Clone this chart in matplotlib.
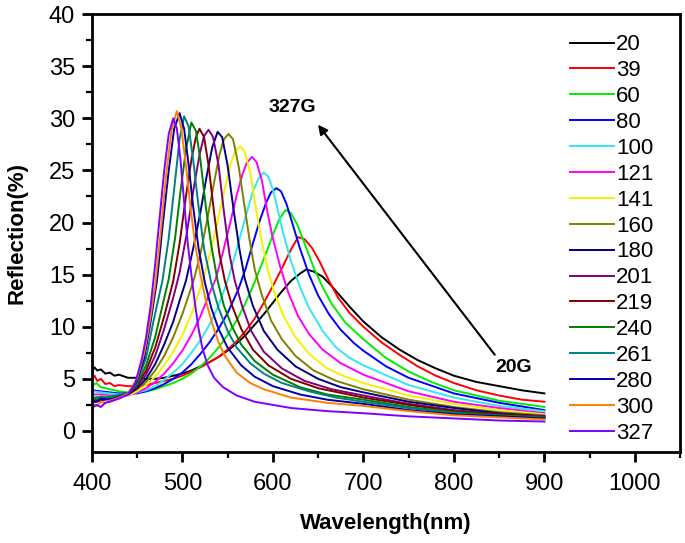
import matplotlib
matplotlib.use("Agg")
import numpy as np
import matplotlib.pyplot as plt
from matplotlib.ticker import MultipleLocator

plt.rcParams['font.family'] = ['Liberation Sans', 'DejaVu Sans']

# field values (G) and reflection spectra: (wavelength nm, reflection %)
fields = ['20', '39', '60', '80', '100', '121', '141', '160',
          '180', '201', '219', '240', '261', '280', '300', '327']
colors = ['#000000', '#ff0000', '#00ee00', '#0000ff', '#33e6f0', '#ff00ff',
          '#f2f200', '#808000', '#000080', '#800080', '#800000', '#008000',
          '#008080', '#0000a8', '#ff8000', '#8000ff']

s20 = [(400, 5.7), (403, 6.1), (406, 5.8), (410, 5.9), (415, 5.5), (420, 5.6), (425, 5.3), (430, 5.4),
       (440, 5.1), (450, 5.1), (460, 5.0), (470, 5.0), (480, 5.1), (490, 5.3), (500, 5.5), (510, 5.8),
       (520, 6.2), (530, 6.6), (540, 7.1), (550, 7.7), (560, 8.4), (570, 9.2), (580, 10.2), (590, 11.2),
       (600, 12.3), (610, 13.4), (620, 14.4), (630, 15.1), (637, 15.5), (645, 15.3), (655, 14.8),
       (665, 13.9), (675, 12.9), (685, 11.9), (700, 10.5), (720, 9.0), (740, 7.8), (760, 6.8),
       (780, 6.0), (800, 5.3), (825, 4.7), (850, 4.3), (875, 3.9), (900, 3.6)]
s39 = [(400, 4.9), (403, 5.3), (406, 4.8), (410, 5.0), (415, 4.5), (420, 4.6), (425, 4.3), (430, 4.4),
       (440, 4.3), (450, 4.3), (460, 4.4), (470, 4.6), (480, 4.8), (490, 5.0), (500, 5.3), (510, 5.7),
       (520, 6.1), (530, 6.6), (540, 7.1), (550, 7.8), (560, 8.6), (570, 9.6), (580, 10.8), (590, 12.3),
       (600, 13.9), (610, 15.6), (620, 17.4), (628, 18.6), (635, 18.4), (643, 17.6), (652, 16.2),
       (662, 14.4), (672, 12.8), (685, 11.3), (700, 10.0), (720, 8.5), (740, 7.3), (760, 6.2),
       (780, 5.3), (800, 4.6), (825, 3.9), (850, 3.4), (875, 3.0), (900, 2.8)]
s60 = [(400, 4.3), (405, 4.6), (410, 4.2), (420, 4.0), (430, 3.8), (440, 3.7), (450, 3.7), (460, 3.8),
       (470, 4.0), (480, 4.3), (490, 4.6), (500, 5.0), (510, 5.5), (520, 6.2), (530, 7.0), (540, 8.0),
       (550, 9.2), (560, 10.6), (570, 12.3), (580, 14.3), (590, 16.5), (600, 18.8), (607, 20.3),
       (614, 21.2), (620, 20.9), (627, 19.8), (635, 18.0), (645, 15.7), (655, 13.8), (665, 12.2),
       (680, 10.4), (700, 8.8), (725, 7.0), (750, 5.7), (775, 4.7), (800, 3.9), (850, 2.9), (900, 2.3)]
s80 = [(400, 3.9), (410, 3.8), (420, 3.7), (430, 3.6), (440, 3.6), (450, 3.6), (460, 3.8), (470, 4.1),
       (480, 4.5), (490, 5.0), (500, 5.6), (510, 6.4), (520, 7.4), (530, 8.5), (540, 9.8), (550, 11.3),
       (562, 13.6), (570, 15.6), (578, 18.0), (586, 20.3), (593, 22.0), (598, 22.9), (604, 23.3),
       (609, 23.0), (615, 21.8), (622, 19.8), (630, 17.5), (640, 15.0), (650, 13.0), (662, 11.2),
       (675, 9.7), (690, 8.4), (700, 7.7), (725, 6.2), (750, 5.1), (800, 3.6), (850, 2.7), (900, 2.0)]
s100 = [(400, 3.8), (410, 3.7), (420, 3.6), (430, 3.5), (440, 3.5), (450, 3.7), (460, 3.9), (470, 4.3),
        (480, 4.9), (490, 5.6), (500, 6.4), (510, 7.5), (520, 8.7), (530, 10.2), (540, 12.0),
        (550, 14.4), (558, 16.8), (565, 19.0), (572, 21.2), (578, 23.0), (584, 24.2), (590, 24.8),
        (595, 24.4), (600, 23.2), (606, 21.0), (612, 18.8), (620, 16.3), (630, 13.8), (640, 11.8),
        (655, 9.6), (670, 8.0), (685, 7.0), (700, 6.3), (750, 4.4), (800, 3.2), (850, 2.4), (900, 1.9)]
s121 = [(400, 3.5), (410, 3.5), (420, 3.4), (430, 3.4), (440, 3.4), (450, 3.7), (460, 4.1), (470, 4.7),
        (480, 5.5), (490, 6.5), (500, 7.7), (510, 9.2), (520, 11.0), (530, 13.2), (537, 14.6),
        (545, 17.2), (553, 20.0), (560, 22.6), (566, 24.5), (571, 25.7), (577, 26.3), (582, 25.8),
        (588, 24.0), (594, 21.0), (600, 18.5), (608, 15.8), (617, 13.3), (628, 11.0), (640, 9.3),
        (655, 7.8), (675, 6.5), (700, 5.4), (750, 3.8), (800, 2.8), (850, 2.2), (900, 1.7)]
s141 = [(400, 3.3), (410, 3.3), (420, 3.3), (430, 3.3), (440, 3.4), (450, 3.8), (460, 4.4), (470, 5.2),
        (480, 6.3), (490, 7.6), (500, 9.2), (510, 11.2), (518, 13.2), (524, 14.8), (532, 17.5),
        (540, 20.5), (547, 23.3), (553, 25.5), (558, 26.8), (564, 27.3), (569, 26.8), (575, 24.8),
        (581, 21.5), (587, 18.5), (594, 15.6), (602, 13.2), (612, 11.0), (625, 9.0), (640, 7.4),
        (660, 6.0), (680, 5.2), (700, 4.6), (750, 3.4), (800, 2.6), (850, 2.0), (900, 1.6)]
s160 = [(400, 3.2), (410, 3.2), (420, 3.3), (430, 3.3), (440, 3.5), (450, 4.0), (460, 4.7), (470, 5.8),
        (480, 7.2), (490, 9.0), (500, 11.2), (507, 13.0), (513, 14.6), (520, 17.0), (528, 20.5),
        (535, 23.8), (541, 26.5), (546, 28.0), (551, 28.5), (556, 28.0), (562, 25.5), (568, 22.0),
        (574, 18.5), (580, 15.5), (588, 13.0), (598, 10.6), (610, 8.8), (625, 7.2), (645, 5.8),
        (670, 4.8), (700, 4.0), (750, 3.0), (800, 2.3), (850, 1.8), (900, 1.5)]
s180 = [(400, 2.9), (405, 3.2), (410, 3.0), (420, 3.2), (430, 3.3), (440, 3.5), (450, 4.1), (460, 5.0),
        (470, 6.4), (480, 8.3), (490, 10.5), (497, 12.5), (504, 14.4), (512, 17.5), (520, 21.0),
        (527, 24.5), (533, 27.2), (539, 28.7), (544, 28.2), (550, 25.5), (557, 21.0), (563, 17.5),
        (569, 14.6), (578, 12.0), (590, 9.6), (605, 7.8), (625, 6.2), (650, 5.0), (675, 4.2),
        (700, 3.7), (750, 2.8), (800, 2.2), (850, 1.7), (900, 1.4)]
s201 = [(400, 2.7), (410, 2.9), (420, 3.1), (430, 3.3), (440, 3.6), (450, 4.3), (460, 5.4), (470, 7.2),
        (480, 9.8), (490, 12.8), (497, 15.2), (505, 19.0), (512, 23.0), (519, 26.5), (524, 28.3),
        (529, 28.9), (534, 28.2), (540, 25.5), (546, 21.0), (552, 17.0), (558, 14.4), (566, 12.0),
        (576, 9.6), (590, 7.6), (610, 6.0), (635, 4.8), (665, 4.0), (700, 3.4), (750, 2.6),
        (800, 2.0), (850, 1.6), (900, 1.4)]
s219 = [(400, 2.8), (410, 3.0), (420, 3.2), (430, 3.3), (440, 3.6), (450, 4.4), (460, 5.8), (470, 8.0),
        (480, 11.0), (490, 14.4), (497, 18.0), (504, 22.5), (510, 26.0), (515, 28.2), (519, 29.0),
        (524, 28.2), (529, 25.5), (535, 21.0), (541, 17.0), (547, 14.4), (555, 12.0), (565, 9.8),
        (578, 7.8), (595, 6.3), (620, 5.0), (650, 4.1), (700, 3.2), (750, 2.5), (800, 1.9),
        (850, 1.6), (900, 1.3)]
s240 = [(400, 2.9), (410, 3.2), (420, 3.3), (430, 3.4), (440, 3.6), (450, 4.5), (460, 6.3), (470, 9.0),
        (478, 12.0), (485, 14.6), (492, 18.5), (498, 23.0), (504, 27.0), (510, 29.6), (515, 28.8),
        (520, 26.0), (526, 21.5), (532, 17.8), (539, 14.4), (546, 12.0), (555, 10.0), (565, 8.3),
        (580, 6.7), (600, 5.4), (630, 4.2), (660, 3.5), (700, 3.0), (750, 2.3), (800, 1.8),
        (850, 1.5), (900, 1.3)]
s261 = [(400, 3.1), (410, 3.3), (420, 3.2), (430, 3.4), (440, 3.6), (450, 4.7), (460, 7.0), (468, 10.5),
        (478, 14.4), (485, 18.5), (492, 24.0), (497, 28.0), (502, 30.2), (507, 29.2), (512, 26.0),
        (518, 21.5), (524, 17.5), (532, 14.2), (540, 11.8), (550, 9.6), (560, 8.0), (575, 6.5),
        (590, 5.5), (610, 4.6), (640, 3.8), (670, 3.2), (700, 2.8), (750, 2.2), (800, 1.7),
        (850, 1.4), (900, 1.2)]
s280 = [(400, 3.0), (405, 2.8), (410, 3.1), (420, 3.0), (430, 3.3), (440, 3.6), (450, 4.8), (458, 7.0),
        (465, 10.5), (472, 14.4), (478, 19.5), (485, 25.0), (491, 29.0), (497, 30.5), (502, 29.0),
        (507, 25.5), (512, 21.5), (518, 17.5), (525, 14.2), (532, 11.8), (540, 9.8), (550, 8.0),
        (565, 6.3), (580, 5.2), (600, 4.3), (630, 3.5), (660, 3.0), (700, 2.6), (750, 2.0),
        (800, 1.6), (850, 1.4), (900, 1.2)]
s300 = [(400, 2.6), (405, 2.4), (410, 2.8), (415, 2.7), (420, 2.9), (430, 3.2), (440, 3.6), (450, 5.0),
        (458, 7.5), (465, 11.0), (470, 14.0), (476, 19.0), (482, 24.5), (488, 28.8), (494, 30.7),
        (499, 29.0), (504, 25.5), (509, 21.5), (514, 18.0), (520, 15.0), (526, 12.5), (533, 10.3),
        (540, 8.5), (547, 7.2), (560, 5.6), (575, 4.6), (590, 4.0), (620, 3.2), (660, 2.7),
        (700, 2.4), (750, 1.9), (800, 1.5), (850, 1.3), (900, 1.1)]
s327 = [(400, 2.2), (405, 2.5), (410, 2.3), (415, 2.7), (420, 2.8), (430, 3.1), (440, 3.5), (448, 4.6),
        (455, 6.8), (460, 9.0), (465, 12.0), (470, 16.0), (475, 20.5), (480, 25.0), (485, 28.5),
        (490, 30.0), (494, 29.0), (498, 26.0), (502, 22.0), (506, 18.0), (510, 15.0), (514, 12.2),
        (518, 9.8), (522, 8.0), (528, 6.3), (535, 5.1), (545, 4.2), (560, 3.4), (580, 2.8),
        (620, 2.2), (660, 1.9), (700, 1.7), (750, 1.4), (800, 1.2), (850, 1.0), (900, 0.9)]

spectra = [s20, s39, s60, s80, s100, s121, s141, s160,
           s180, s201, s219, s240, s261, s280, s300, s327]

fig = plt.figure(figsize=(6.85, 5.43), dpi=100)
ax = fig.add_axes([0.134, 0.168, 0.859, 0.806])

for lab, col, sp in zip(fields, colors, spectra):
    sp = np.array(sp)
    ax.plot(sp[:, 0], sp[:, 1], color=col, lw=1.4, label=lab)

ax.set_xlim(400, 1050)
ax.set_ylim(-2.0, 40)
ax.xaxis.set_major_locator(MultipleLocator(100))
ax.xaxis.set_minor_locator(MultipleLocator(50))
ax.yaxis.set_major_locator(MultipleLocator(5))
ax.yaxis.set_minor_locator(MultipleLocator(2.5))
ax.tick_params(which='major', direction='out', length=7, width=2, labelsize=17, pad=5)
ax.tick_params(axis='x', which='major', pad=8)
ax.tick_params(which='minor', direction='out', length=4, width=1.6)
for sp in ax.spines.values():
    sp.set_linewidth(2)

ax.set_xlabel('Wavelength(nm)', fontsize=16, fontweight='bold')
ax.set_ylabel('Reflection(%)', fontsize=16, fontweight='bold')
ax.xaxis.set_label_coords(0.5, -0.14)
ax.yaxis.set_label_coords(-0.11, 0.5)

ax.legend(loc='upper left', bbox_to_anchor=(0.797, 0.974), frameon=False, fontsize=16,
          handlelength=2.0, handletextpad=0.1, labelspacing=0.22, borderaxespad=0)

ax.annotate('', xy=(648, 29.6), xytext=(847, 7.1),
            arrowprops=dict(arrowstyle='-|>', color='black', lw=1.5, mutation_scale=14))
ax.text(621, 31.0, '327G', fontsize=14, fontweight='bold', ha='center', va='center')
ax.text(866, 6.1, '20G', fontsize=14, fontweight='bold', ha='center', va='center')

fig.savefig('out.png', dpi=100)
